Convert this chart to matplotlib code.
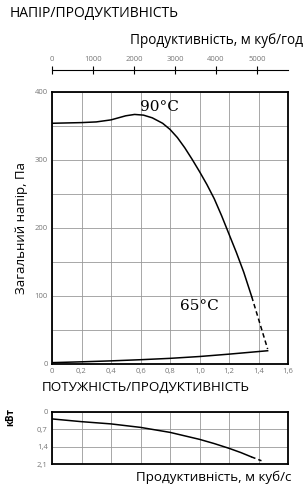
import matplotlib.pyplot as plt
import numpy as np

plt.rcParams['font.family'] = ['Open Sans', 'DejaVu Sans']

# напір, Па (90°C)
q_head = [0, 0.2, 0.3, 0.4, 0.45, 0.5, 0.56, 0.62, 0.68, 0.75, 0.8, 0.85, 0.9, 0.95,
          1.0, 1.05, 1.1, 1.15, 1.2, 1.25, 1.3, 1.354]
head = [354, 355, 356, 359, 362, 365, 367, 366, 362, 354, 345, 333, 318, 301,
        283, 264, 243, 218, 191, 164, 135, 99]
q_head_dash = [1.354, 1.462]
head_dash = [99, 22]

# нижня крива (65°C)
q_low = [0, 0.2, 0.4, 0.6, 0.8, 1.0, 1.2, 1.462]
low = [2, 3.2, 4.6, 6.3, 8.3, 11, 14.5, 19.5]

# потужність, кВт
q_pow = [0, 0.2, 0.4, 0.6, 0.8, 1.0, 1.1, 1.2, 1.28, 1.35]
power = [0.29, 0.40, 0.49, 0.63, 0.83, 1.11, 1.28, 1.47, 1.64, 1.81]
q_pow_dash = [1.35, 1.42]
power_dash = [1.81, 1.97]

x_ticks = [0, 0.2, 0.4, 0.6, 0.8, 1.0, 1.2, 1.4, 1.6]
x_labels = ['0', '0,2', '0,4', '0,6', '0,8', '1,0', '1,2', '1,4', '1,6']
top_ticks = [0, 1000, 2000, 3000, 4000, 5000]

fig = plt.figure(figsize=(3.07, 5.0), dpi=100)
ax = fig.add_axes([52/307, 136/500, 236/307, 272/500])
ax2 = fig.add_axes([52/307, 36/500, 236/307, 52.3/500])

gray = '#777777'
for a in (ax, ax2):
    for s in a.spines.values():
        s.set_linewidth(1.3)
        s.set_color('black')
    a.grid(True, color='#999999', linewidth=0.6)
    a.set_axisbelow(True)
    a.tick_params(length=0, labelsize=5.5, labelcolor=gray, pad=3)

ax.plot(q_head, head, color='black', lw=1.1)
ax.plot(q_head_dash, head_dash, color='black', lw=1.1, ls=(0, (3, 2)))
ax.plot(q_low, low, color='black', lw=1.1)
ax.set_xlim(0, 1.6)
ax.set_ylim(0, 400)
ax.set_xticks(x_ticks)
ax.set_xticklabels(x_labels)
ax.set_yticks([0, 50, 100, 150, 200, 250, 300, 350, 400])
ax.set_yticklabels(['0', '', '100', '', '200', '', '300', '', '400'])
ax.set_ylabel('Загальний напір, Па', fontsize=9.5, labelpad=5)
ax.text(0.73, 378, '90°C', family='DejaVu Serif', fontsize=11, ha='center', va='center')
ax.text(1.0, 85, '65°C', family='DejaVu Serif', fontsize=11, ha='center', va='center')

top = ax.secondary_xaxis('top', functions=(lambda q: q * 3600, lambda h: h / 3600))
top.spines['top'].set_position(('outward', 16))
top.spines['top'].set_linewidth(0.8)
top.set_xticks(top_ticks)
top.tick_params(direction='inout', length=6, width=0.8, labelsize=5.5, labelcolor=gray, pad=2)

fig.text(10/307, 1 - 14/500, 'НАПІР/ПРОДУКТИВНІСТЬ', fontsize=10, va='center', ha='left')
fig.text(303/307, 1 - 40/500, 'Продуктивність, м куб/год', fontsize=9.8, va='center', ha='right')

ax2.plot(q_pow, power, color='black', lw=1.1)
ax2.plot(q_pow_dash, power_dash, color='black', lw=1.1, ls=(0, (3, 2)))
ax2.set_xlim(0, 1.6)
ax2.set_ylim(2.1, 0)
ax2.set_xticks(x_ticks)
ax2.set_xticklabels([])
ax2.set_yticks([0, 0.7, 1.4, 2.1])
ax2.set_yticklabels(['0', '0,7', '1,4', '2,1'])
ax2.set_ylabel('кВт', fontsize=7, fontweight='bold', labelpad=8)
ax2.yaxis.set_label_coords(-0.15, 0.9)

fig.text(42/307, 1 - 387/500, 'ПОТУЖНІСТЬ/ПРОДУКТИВНІСТЬ', fontsize=9.6, va='center', ha='left')
fig.text(291/307, 1 - 477/500, 'Продуктивність, м куб/с', fontsize=9.6, va='center', ha='right')

fig.savefig('out.png', dpi=100)
